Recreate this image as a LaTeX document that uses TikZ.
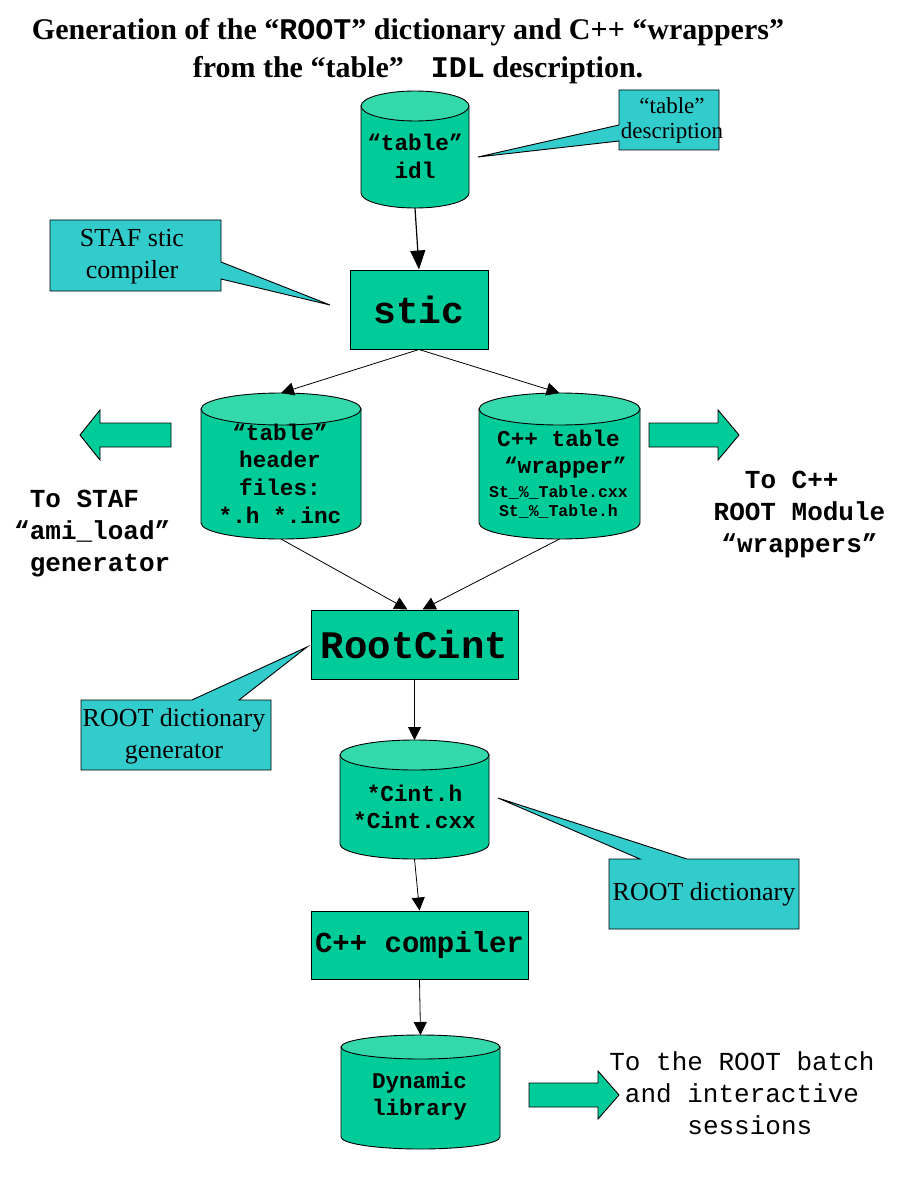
\documentclass[tikz,border=0pt]{standalone}
\usepackage{fontspec}
\setmainfont{Liberation Serif}
\setmonofont{Liberation Mono}
\usetikzlibrary{arrows.meta,calc}
\definecolor{cylbodyc}{HTML}{00CC99}
\definecolor{cyltopc}{HTML}{33D9AA}
\definecolor{callc}{HTML}{33CCCC}
\newcommand{\cylfig}[3]{%
  \path[cylshape] ([yshift=-#3pt]#1.north west) -- ([yshift=#3pt]#1.south west)
    arc[start angle=180,end angle=360,x radius=#2pt,y radius=#3pt]
    -- ([yshift=-#3pt]#1.north east) -- cycle;
  \path[cylcap] ([yshift=-#3pt]#1.north) ellipse [x radius=#2pt,y radius=#3pt];
}
\tikzset{
  cylframe/.style={inner sep=0pt, outer sep=0pt, draw=none},
  cylshape/.style={fill=cylbodyc, draw=black, line width=0.9pt},
  cylcap/.style={fill=cyltopc, draw=black, line width=0.9pt},
  cyltext/.style={font=\fontsize{22.7}{27.7}\selectfont\ttfamily\bfseries, align=center, inner sep=0pt},
  smalltext/.style={font=\fontsize{16.5}{19}\selectfont\ttfamily\bfseries, align=center, inner sep=0pt},
  procbox/.style={draw=black, fill=cylbodyc, line width=1pt, inner sep=0pt},
  callframe/.style={inner sep=0pt, outer sep=0pt, draw=none},
  callshape/.style={fill=callc, draw=black, line width=0.9pt},
  calltext/.style={font=\fontsize{26}{32}\selectfont, align=center, inner sep=0pt},
  flow/.style={-{Triangle[length=13pt,width=13pt]}, line width=0.8pt},
  bigflow/.style={-{Triangle[length=19pt,width=15pt]}, line width=1.2pt},
  fatarrow/.style={fill=cylbodyc, draw=black, line width=0.9pt},
  sidetext/.style={font=\fontsize{26}{32}\selectfont\ttfamily\bfseries, inner sep=0pt},
  titletext/.style={font=\fontsize{30}{36}\selectfont\bfseries, inner sep=0pt},
}
\begin{document}
\begin{tikzpicture}[x=1pt,y=-1pt]
\fill[white] (0,0) rectangle (898,1198);
\useasboundingbox (0,0) rectangle (898,1198);

% title
\node[titletext] (title1) at (408,32) {Generation of the “\texttt{ROOT}” dictionary and C++ “wrappers”};
\node[titletext] (title2) at (418,70) {from the “table”\hspace{0.9em}\texttt{IDL} description.};

% cylinders
\node[cylframe, minimum width=108pt, minimum height=117pt] (idl) at (415,149.5) {};
\cylfig{idl}{54}{15}
\node[cyltext] (idlt) at (415,156.5) {“table”\\idl};

\node[cylframe, minimum width=160pt, minimum height=146pt] (hdr) at (281,466) {};
\cylfig{hdr}{80}{16}
\node[cyltext] (hdrt) at (280,473.5) {“table”\\header\\files:\\*.h *.inc};

\node[cylframe, minimum width=161pt, minimum height=146pt] (wrp) at (559.5,466) {};
\cylfig{wrp}{80.5}{16}
\node[cyltext] (wrpt) at (558.5,454) {C++ table\\\phantom{x}“wrapper”};
\node[smalltext] (wrps) at (558.5,501.5) {St\_\%\_Table.cxx\\St\_\%\_Table.h};

\node[cylframe, minimum width=149pt, minimum height=119pt] (cint) at (414.5,799.5) {};
\cylfig{cint}{74.5}{15}
\node[cyltext] (cintt) at (414.5,807) {*Cint.h\\*Cint.cxx};

\node[cylframe, minimum width=159pt, minimum height=114pt] (dyn) at (420.5,1092) {};
\cylfig{dyn}{79.5}{12}
\node[cyltext, font=\fontsize{22.6}{27}\selectfont\ttfamily\bfseries] (dynt) at (419.5,1096.5) {Dynamic\\library};

% process boxes
\node[procbox, minimum width=138pt, minimum height=79pt, font=\fontsize{38}{38}\selectfont\ttfamily\bfseries] (stic) at (419,309.5) {stic};
\node[procbox, minimum width=207pt, minimum height=69pt, font=\fontsize{39}{39}\selectfont\ttfamily\bfseries] (rc) at (414.5,644.5) {RootCint};
\node[procbox, minimum width=217pt, minimum height=68pt, font=\fontsize{29}{29}\selectfont\ttfamily\bfseries] (comp) at (419.5,945) {C++ compiler};

% callouts
\node[callframe, minimum width=100pt, minimum height=60pt] (c1) at (669,120) {};
\coordinate (c1tip) at (478,157);
\path[callshape] (c1.north west) -- (c1.north east) -- (c1.south east) -- (c1.south west)
  -- ([yshift=9pt]c1.south west) -- (c1tip) -- ([yshift=-35pt]c1.north west) -- cycle;
\node[calltext, font=\fontsize{23}{25}\selectfont] (c1t) at (672,120.5) {“table”\\description};

\node[callframe, minimum width=171pt, minimum height=71pt] (c2) at (135.5,255.5) {};
\coordinate (c2tip) at (330,305);
\path[callshape] (c2.north west) -- (c2.north east) -- ([yshift=-42pt]c2.north east) -- (c2tip)
  -- ([yshift=12pt]c2.south east) -- (c2.south east) -- (c2.south west) -- cycle;
\node[calltext] (c2t) at (132,257) {STAF stic\\compiler};

\node[callframe, minimum width=190pt, minimum height=70pt] (c3) at (176,735) {};
\coordinate (c3tip) at (307,647);
\path[callshape] (c3.north west) -- ([xshift=111pt]c3.north west) -- (c3tip) -- ([xshift=158pt]c3.north west)
  -- (c3.north east) -- (c3.south east) -- (c3.south west) -- cycle;
\node[calltext] (c3t) at (174,736) {ROOT dictionary\\generator};

\node[callframe, minimum width=190pt, minimum height=70pt] (c4) at (704,894) {};
\coordinate (c4tip) at (498,798);
\path[callshape] (c4.north west) -- ([xshift=31pt]c4.north west) -- (c4tip) -- ([xshift=78pt]c4.north west)
  -- (c4.north east) -- (c4.south east) -- (c4.south west) -- cycle;
\node[calltext] (c4t) at (704,894) {ROOT dictionary};

% fat arrows
\path[fatarrow] (171,423) -- (100,423) -- (100,410) -- (80,435) -- (100,460) -- (100,447) -- (171,447) -- cycle;
\path[fatarrow] (649,423) -- (718,423) -- (718,410) -- (739,435) -- (718,460) -- (718,447) -- (649,447) -- cycle;
\path[fatarrow] (529,1083) -- (598,1083) -- (598,1071) -- (619,1095) -- (598,1119) -- (598,1107) -- (529,1107) -- cycle;

% side texts
\node[sidetext, align=left, anchor=west] (stafT) at (14,534) {\phantom{x}To STAF\\“ami\_load”\\\phantom{x}generator};
\node[sidetext, align=center] (rootT) at (799.5,514) {To C++\phantom{x}\\ROOT Module\\“wrappers”};
\node[font=\fontsize{26}{32}\selectfont\ttfamily, align=center, inner sep=0pt] (sessT) at (742,1093) {To the ROOT batch\\and interactive\\\phantom{x}sessions};

% connectors
\draw[bigflow] (idl.south) -- (stic.north);
\draw[flow] (stic.south) -- (hdr.north);
\draw[flow] (stic.south) -- (wrp.north);
\draw[flow] (hdr.south) -- ([xshift=-7pt]rc.north);
\draw[flow] (wrp.south) -- ([xshift=8pt]rc.north);
\draw[flow] (rc.south) -- (cint.north);
\draw[flow] (cint.south) -- (comp.north);
\draw[flow] (comp.south) -- (dyn.north);
\end{tikzpicture}
\end{document}
